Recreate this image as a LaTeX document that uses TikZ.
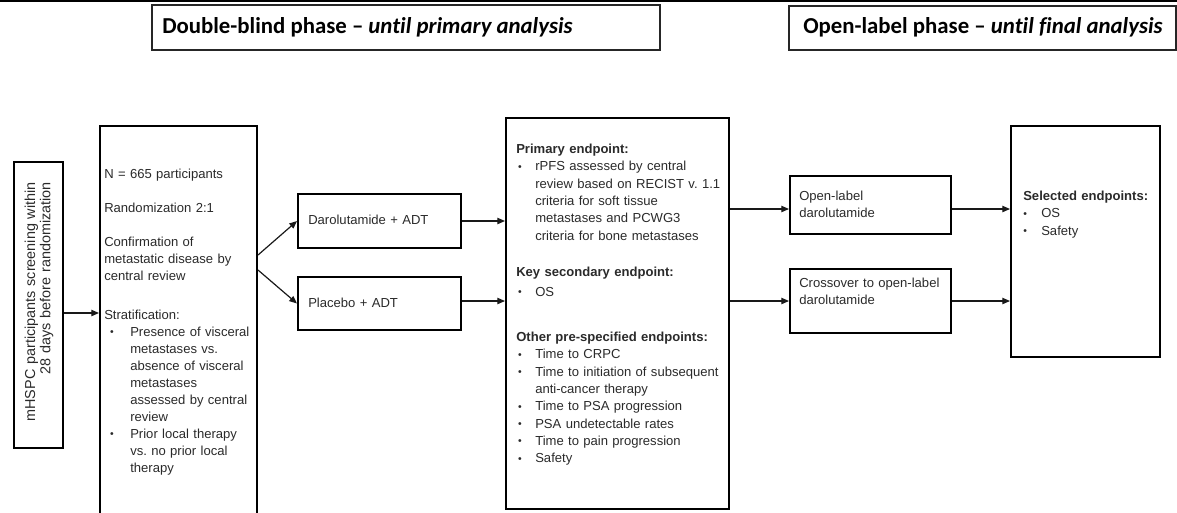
\documentclass[tikz,border=0pt]{standalone}
\usepackage{fontspec}
\setmainfont{Liberation Sans}
\newfontfamily\hdfont[Ligatures={NoCommon}]{Carlito}
\usetikzlibrary{arrows.meta}
\definecolor{ink}{HTML}{2A2A2A}
\frenchspacing

% bullet with left indent #1 and label box width #2
\newcommand\bitem[2]{\hspace*{#1}\makebox[#2][l]{\raisebox{0.5pt}{\scalebox{0.8}{\textbullet}}}}

\begin{document}
\begin{tikzpicture}[x=0.75pt,y=-0.75pt,
  box/.style={draw=black, line width=1.5pt, inner sep=0pt, anchor=north west},
  hdbox/.style={draw=black!85, line width=1.6pt, inner sep=0pt, anchor=north west},
  txt/.style={inner sep=0pt, anchor=base west, text width=#1, align=left,
              text=ink, font=\fontsize{9.8pt}{12.8pt}\selectfont},
  txt/.default=200pt,
  hdtxt/.style={inner sep=0pt, anchor=base west, text=black,
                font=\hdfont\bfseries\fontsize{17.1pt}{20pt}\selectfont},
  arr/.style={line width=0.9pt, draw=black!90,
              -{Triangle[length=5.8pt,width=4.8pt]}},
]
\useasboundingbox (0,0) rectangle (1177,512);

% rule along the top edge
\coordinate (ruleL) at (0,1);
\coordinate (ruleR) at (1177,1);
\draw[line width=1.5pt] (ruleL) -- (ruleR);

% phase headers
\node[hdbox, minimum width=508*0.75pt, minimum height=45*0.75pt] (hd1) at (151,4) {};
\node[hdtxt] (hd1t) at (162,33.5) {Double-blind phase \textendash{} \textit{until primary analysis}};
\node[hdbox, minimum width=387*0.75pt, minimum height=44*0.75pt] (hd2) at (788,5) {};
\node[hdtxt] (hd2t) at (803,33.5) {Open-label phase \textendash{} \textit{until final analysis}};

% screening
\node[box, minimum width=49*0.75pt, minimum height=286*0.75pt] (scr) at (13,161) {};
\node[inner sep=0pt, rotate=90, anchor=base east, text width=190pt, align=right,
      text=ink, font=\fontsize{10.8pt}{11.5pt}\selectfont] (scrt) at (35,182)
  {mHSPC participants screening within\\28 days before randomization};

% randomization box (runs off the lower edge)
\node[box, minimum width=157*0.75pt, minimum height=400*0.75pt] (nbox) at (99,125) {};
\node[txt=150pt] (nboxt) at (104,178.5) {%
N = 665 participants\\[13pt]
Randomization 2:1\\[12.5pt]
Confirmation of\\
metastatic disease by\\
central review\\[16pt]
Stratification:\\
\bitem{4.3pt}{15.2pt}Presence of visceral\\
\hspace*{19.5pt}metastases vs.\\
\hspace*{19.5pt}absence of visceral\\
\hspace*{19.5pt}metastases\\
\hspace*{19.5pt}assessed by central\\
\hspace*{19.5pt}review\\
\bitem{4.3pt}{15.2pt}Prior local therapy\\
\hspace*{19.5pt}vs. no prior local\\
\hspace*{19.5pt}therapy};

% treatment arms
\node[box, minimum width=163*0.75pt, minimum height=54*0.75pt] (daro) at (297,193) {};
\node[txt=120pt] (darot) at (308,224.5) {Darolutamide + ADT};
\node[box, minimum width=163*0.75pt, minimum height=53*0.75pt] (plac) at (297,276) {};
\node[txt=120pt] (plact) at (308,307.5) {Placebo + ADT};

% endpoints of the double-blind phase
\node[box, minimum width=223*0.75pt, minimum height=391*0.75pt] (endp) at (505,117) {};
\node[txt=160pt, font=\fontsize{9.8pt}{13pt}\selectfont] (endpt) at (516,153.5) {%
\textbf{Primary endpoint:}\\
\bitem{1.3pt}{12.95pt}rPFS assessed by central\\
\hspace*{14.25pt}review based on RECIST v. 1.1\\
\hspace*{14.25pt}criteria for soft tissue\\
\hspace*{14.25pt}metastases and PCWG3\\
\hspace*{14.25pt}criteria for bone metastases\\[14pt]
\textbf{Key secondary endpoint:}\\[2pt]
\bitem{1.3pt}{12.95pt}OS\\[21pt]
\textbf{Other pre-specified endpoints:}\\
\bitem{1.3pt}{12.95pt}Time to CRPC\\
\bitem{1.3pt}{12.95pt}Time to initiation of subsequent\\
\hspace*{14.25pt}anti-cancer therapy\\
\bitem{1.3pt}{12.95pt}Time to PSA progression\\
\bitem{1.3pt}{12.95pt}PSA undetectable rates\\
\bitem{1.3pt}{12.95pt}Time to pain progression\\
\bitem{1.3pt}{12.95pt}Safety};

% open-label phase
\node[box, minimum width=161*0.75pt, minimum height=58*0.75pt] (open) at (789,175) {};
\node[txt=118pt] (opent) at (799,200.5) {Open-label\\darolutamide};
\node[box, minimum width=161*0.75pt, minimum height=64*0.75pt] (cross) at (789,268) {};
\node[txt=118pt] (crosst) at (799,287.5) {Crossover to open-label\\darolutamide};

\node[box, minimum width=149*0.75pt, minimum height=231*0.75pt] (sel) at (1010,125) {};
\node[txt=110pt, font=\fontsize{9.8pt}{13pt}\selectfont] (selt) at (1023,200.5) {%
\textbf{Selected endpoints:}\\
\bitem{0pt}{13.5pt}OS\\
\bitem{0pt}{13.5pt}Safety};

% connectors
\draw[arr] (scr.east |- 0,313) -- (nbox.west |- 0,313);
\draw[arr] (nbox.east |- 0,255) -- (daro.west);
\draw[arr] (nbox.east |- 0,270) -- (plac.west);
\draw[arr] (daro.east) -- (endp.west |- daro.east);
\draw[arr] (plac.east |- 0,301) -- (endp.west |- 0,301);
\draw[arr] (endp.east |- 0,209) -- (open.west |- 0,209);
\draw[arr] (endp.east |- 0,301) -- (cross.west |- 0,301);
\draw[arr] (open.east |- 0,209) -- (sel.west |- 0,209);
\draw[arr] (cross.east |- 0,301) -- (sel.west |- 0,301);
\end{tikzpicture}
\end{document}
